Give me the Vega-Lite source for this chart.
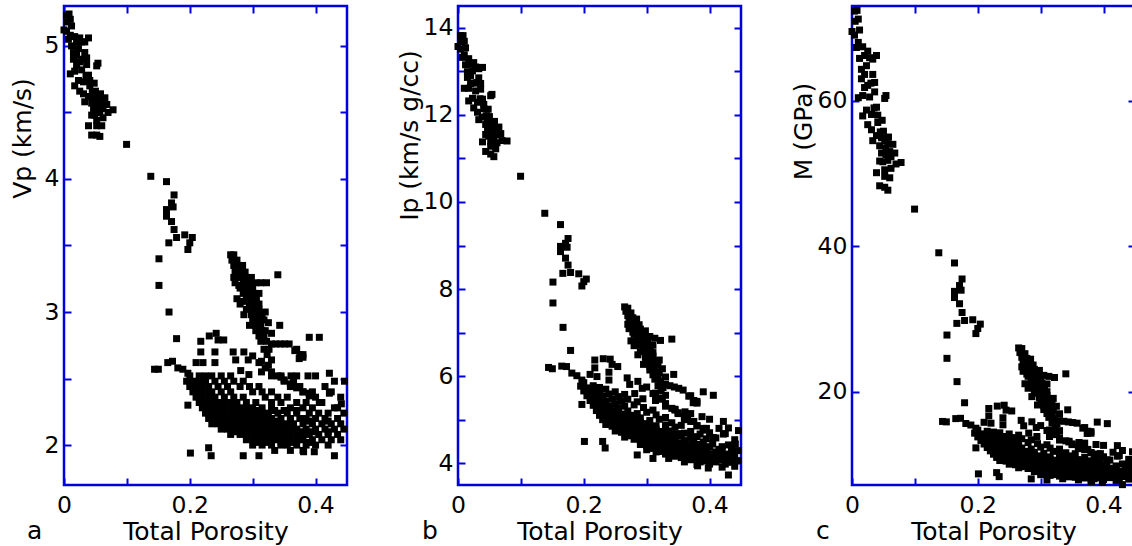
{
"$schema": "https://vega.github.io/schema/vega-lite/v6.json",
"autosize": {"type": "pad"},
"padding": {"left": 8, "top": 3, "right": 0, "bottom": 0},
"background": "white",
"bounds": "flush",
"spacing": 111,
"config": {
  "font": "DejaVu Sans",
  "view": {"stroke": "#0000dd", "strokeWidth": 2.5},
  "axis": {"domain": false, "grid": false, "tickColor": "#0000dd", "tickWidth": 2, "tickSize": -7, "labelFont": "DejaVu Sans", "labelFontSize": 23.5, "labelColor": "black", "labelFlush": false, "labelOverlap": false, "titleFont": "DejaVu Sans", "titleFontSize": 25, "titleFontWeight": "normal", "titleColor": "black"},
  "title": {"font": "DejaVu Sans", "fontSize": 25, "fontWeight": "normal", "color": "black"}
},
"data": {"values": [
{"p":0.004,"v":5.23,"i":13.82,"m":72.3},{"p":0.008,"v":5.24,"i":13.82,"m":72.4},{"p":0.0,"v":5.12,"i":13.57,"m":69.5},{"p":0.012,"v":5.15,"i":13.54,"m":69.7},{"p":0.01,"v":5.08,"i":13.38,"m":68.0},{"p":0.017,"v":5.07,"i":13.29,"m":67.4},{"p":0.025,"v":5.06,"i":13.2,"m":66.8},{"p":0.039,"v":5.06,"i":13.09,"m":66.2},{"p":0.033,"v":5.03,"i":13.06,"m":65.7},{"p":0.012,"v":5.0,"i":13.15,"m":65.8},
{"p":0.023,"v":4.98,"i":13.01,"m":64.8},{"p":0.033,"v":4.95,"i":12.85,"m":63.6},{"p":0.036,"v":4.91,"i":12.72,"m":62.5},{"p":0.015,"v":4.9,"i":12.86,"m":63.0},{"p":0.025,"v":4.88,"i":12.73,"m":62.1},{"p":0.054,"v":4.87,"i":12.47,"m":60.7},{"p":0.052,"v":4.85,"i":12.44,"m":60.3},{"p":0.01,"v":4.79,"i":12.61,"m":60.4},{"p":0.017,"v":4.81,"i":12.61,"m":60.7},{"p":0.028,"v":4.82,"i":12.55,"m":60.5},
{"p":0.039,"v":4.78,"i":12.36,"m":59.1},{"p":0.023,"v":4.74,"i":12.38,"m":58.7},{"p":0.031,"v":4.73,"i":12.29,"m":58.1},{"p":0.041,"v":4.7,"i":12.14,"m":57.0},{"p":0.025,"v":4.66,"i":12.16,"m":56.7},{"p":0.031,"v":4.64,"i":12.06,"m":56.0},{"p":0.039,"v":4.62,"i":11.95,"m":55.2},{"p":0.047,"v":4.62,"i":11.88,"m":54.9},{"p":0.052,"v":4.61,"i":11.82,"m":54.5},{"p":0.065,"v":4.61,"i":11.72,"m":54.0},
{"p":0.033,"v":4.58,"i":11.89,"m":54.5},{"p":0.044,"v":4.57,"i":11.78,"m":53.8},{"p":0.054,"v":4.57,"i":11.7,"m":53.5},{"p":0.06,"v":4.56,"i":11.63,"m":53.0},{"p":0.068,"v":4.56,"i":11.57,"m":52.8},{"p":0.078,"v":4.52,"i":11.4,"m":51.5},{"p":0.047,"v":4.53,"i":11.65,"m":52.8},{"p":0.057,"v":4.5,"i":11.5,"m":51.8},{"p":0.049,"v":4.48,"i":11.51,"m":51.6},{"p":0.062,"v":4.46,"i":11.36,"m":50.7},
{"p":0.052,"v":4.44,"i":11.38,"m":50.5},{"p":0.039,"v":4.4,"i":11.38,"m":50.1},{"p":0.052,"v":4.4,"i":11.28,"m":49.6},{"p":0.044,"v":4.33,"i":11.16,"m":48.3},{"p":0.052,"v":4.33,"i":11.1,"m":48.1},{"p":0.057,"v":4.32,"i":11.04,"m":47.7},{"p":0.02,"v":5.03,"i":13.16,"m":66.2},{"p":0.004,"v":5.11,"i":13.51,"m":69.0},{"p":0.015,"v":4.95,"i":12.99,"m":64.3},{"p":0.02,"v":4.86,"i":12.72,"m":61.8},
{"p":0.028,"v":5.03,"i":13.1,"m":65.9},{"p":0.036,"v":4.86,"i":12.59,"m":61.2},{"p":0.041,"v":4.74,"i":12.24,"m":58.0},{"p":0.017,"v":4.7,"i":12.32,"m":57.9},{"p":0.057,"v":4.6,"i":11.76,"m":54.1},{"p":0.062,"v":4.53,"i":11.54,"m":52.3},{"p":0.054,"v":4.53,"i":11.6,"m":52.6},{"p":0.044,"v":4.48,"i":11.55,"m":51.7},
{"p":0.005,"v":5.18,"i":13.68,"m":70.9},{"p":0.01,"v":5.2,"i":13.69,"m":71.2},{"p":0.007,"v":5.05,"i":13.32,"m":67.3},{"p":0.02,"v":4.93,"i":12.9,"m":63.6},{"p":0.03,"v":4.9,"i":12.74,"m":62.4},{"p":0.045,"v":4.65,"i":11.98,"m":55.7},{"p":0.05,"v":4.66,"i":11.96,"m":55.8},{"p":0.058,"v":4.64,"i":11.85,"m":55.0},{"p":0.035,"v":4.77,"i":12.37,"m":59.0},{"p":0.048,"v":4.72,"i":12.13,"m":57.3},{"p":0.06,"v":4.4,"i":11.22,"m":49.4},{"p":0.07,"v":4.5,"i":11.41,"m":51.3},
{"p":0.0995,"v":4.26,"i":10.59,"m":45.1},{"p":0.138,"v":4.02,"i":9.74,"m":39.1},{"p":0.163,"v":3.98,"i":9.48,"m":37.7},{"p":0.175,"v":3.88,"i":9.16,"m":35.5},{"p":0.171,"v":3.82,"i":9.05,"m":34.6},{"p":0.1735,"v":3.79,"i":8.96,"m":33.96},{"p":0.163,"v":3.77,"i":8.98,"m":33.8},{"p":0.163,"v":3.72,"i":8.86,"m":32.95},{"p":0.171,"v":3.68,"i":8.71,"m":32.1},{"p":0.175,"v":3.62,"i":8.55,"m":30.9},
{"p":0.179,"v":3.56,"i":8.38,"m":29.8},{"p":0.192,"v":3.58,"i":8.35,"m":29.9},{"p":0.204,"v":3.56,"i":8.23,"m":29.3},{"p":0.2,"v":3.52,"i":8.17,"m":28.7},{"p":0.197,"v":3.47,"i":8.07,"m":28.0},{"p":0.1667,"v":3.52,"i":8.36,"m":29.4},{"p":0.151,"v":3.4,"i":8.16,"m":27.8},{"p":0.151,"v":3.2,"i":7.68,"m":24.6},{"p":0.167,"v":3.0,"i":7.12,"m":21.4},{"p":0.179,"v":2.8,"i":6.59,"m":18.5},
{"p":0.265,"v":3.43,"i":7.59,"m":26.03},{"p":0.27,"v":3.43,"i":7.56,"m":25.94},{"p":0.267,"v":3.39,"i":7.49,"m":25.39},{"p":0.275,"v":3.39,"i":7.45,"m":25.24},{"p":0.27,"v":3.35,"i":7.39,"m":24.74},{"p":0.278,"v":3.35,"i":7.34,"m":24.59},{"p":0.284,"v":3.35,"i":7.31,"m":24.48},{"p":0.272,"v":3.3,"i":7.26,"m":23.97},{"p":0.28,"v":3.3,"i":7.22,"m":23.83},{"p":0.288,"v":3.3,"i":7.18,"m":23.68},
{"p":0.27,"v":3.26,"i":7.19,"m":23.43},{"p":0.28,"v":3.26,"i":7.13,"m":23.25},{"p":0.29,"v":3.26,"i":7.08,"m":23.08},{"p":0.298,"v":3.26,"i":7.04,"m":22.94},{"p":0.272,"v":3.22,"i":7.09,"m":22.82},{"p":0.285,"v":3.22,"i":7.02,"m":22.6},{"p":0.295,"v":3.22,"i":6.97,"m":22.43},{"p":0.305,"v":3.22,"i":6.91,"m":22.26},{"p":0.313,"v":3.22,"i":6.87,"m":22.12},{"p":0.322,"v":3.22,"i":6.82,"m":21.97},
{"p":0.28,"v":3.18,"i":6.96,"m":22.13},{"p":0.29,"v":3.18,"i":6.91,"m":21.96},{"p":0.3,"v":3.18,"i":6.85,"m":21.79},{"p":0.285,"v":3.14,"i":6.84,"m":21.49},{"p":0.293,"v":3.14,"i":6.8,"m":21.36},{"p":0.302,"v":3.14,"i":6.76,"m":21.22},{"p":0.275,"v":3.1,"i":6.81,"m":21.11},{"p":0.29,"v":3.1,"i":6.73,"m":20.87},{"p":0.298,"v":3.1,"i":6.69,"m":20.74},{"p":0.306,"v":3.1,"i":6.65,"m":20.61},
{"p":0.28,"v":3.06,"i":6.7,"m":20.49},{"p":0.295,"v":3.06,"i":6.62,"m":20.26},{"p":0.303,"v":3.06,"i":6.58,"m":20.13},{"p":0.31,"v":3.06,"i":6.54,"m":20.02},{"p":0.29,"v":3.02,"i":6.56,"m":19.8},{"p":0.3,"v":3.02,"i":6.51,"m":19.65},{"p":0.31,"v":3.02,"i":6.46,"m":19.5},{"p":0.286,"v":2.98,"i":6.49,"m":19.34},{"p":0.298,"v":2.98,"i":6.43,"m":19.17},{"p":0.308,"v":2.98,"i":6.38,"m":19.02},
{"p":0.315,"v":2.98,"i":6.35,"m":18.92},{"p":0.3,"v":2.94,"i":6.34,"m":18.63},{"p":0.31,"v":2.94,"i":6.29,"m":18.48},{"p":0.318,"v":2.94,"i":6.25,"m":18.37},{"p":0.295,"v":2.9,"i":6.27,"m":18.19},{"p":0.305,"v":2.9,"i":6.23,"m":18.05},{"p":0.313,"v":2.9,"i":6.19,"m":17.94},{"p":0.343,"v":2.9,"i":6.04,"m":17.53},{"p":0.305,"v":2.86,"i":6.14,"m":17.56},{"p":0.315,"v":2.86,"i":6.09,"m":17.42},
{"p":0.32,"v":2.86,"i":6.07,"m":17.36},{"p":0.31,"v":2.82,"i":6.03,"m":17.01},{"p":0.318,"v":2.82,"i":5.99,"m":16.9},{"p":0.313,"v":2.78,"i":5.93,"m":16.49},{"p":0.322,"v":2.78,"i":5.89,"m":16.37},{"p":0.33,"v":2.76,"i":5.81,"m":16.04},{"p":0.337,"v":2.76,"i":5.78,"m":15.95},{"p":0.344,"v":2.76,"i":5.75,"m":15.86},{"p":0.351,"v":2.76,"i":5.72,"m":15.78},{"p":0.358,"v":2.76,"i":5.68,"m":15.69},
{"p":0.318,"v":2.72,"i":5.78,"m":15.72},{"p":0.326,"v":2.72,"i":5.74,"m":15.63},{"p":0.37,"v":2.72,"i":5.55,"m":15.09},{"p":0.323,"v":2.68,"i":5.67,"m":15.2},{"p":0.375,"v":2.68,"i":5.44,"m":14.59},{"p":0.38,"v":2.66,"i":5.38,"m":14.31},{"p":0.33,"v":2.64,"i":5.56,"m":14.67},{"p":0.34,"v":3.28,"i":6.85,"m":22.47},{"p":0.39,"v":2.81,"i":5.64,"m":15.84},{"p":0.406,"v":2.81,"i":5.56,"m":15.63},
{"p":0.278,"v":3.2,"i":7.01,"m":22.44},{"p":0.285,"v":3.08,"i":6.71,"m":20.68},{"p":0.31,"v":3.14,"i":6.71,"m":21.08},{"p":0.32,"v":3.0,"i":6.37,"m":19.1},{"p":0.325,"v":2.92,"i":6.17,"m":18.02},{"p":0.33,"v":2.84,"i":5.98,"m":16.98},
{"p":0.2175,"v":2.78,"i":6.37,"m":17.71},{"p":0.231,"v":2.82,"i":6.4,"m":18.04},{"p":0.242,"v":2.84,"i":6.39,"m":18.16},{"p":0.245,"v":2.79,"i":6.27,"m":17.48},{"p":0.254,"v":2.79,"i":6.22,"m":17.37},{"p":0.2175,"v":2.7,"i":6.19,"m":16.7},{"p":0.24,"v":2.7,"i":6.09,"m":16.43},{"p":0.269,"v":2.7,"i":5.96,"m":16.08},{"p":0.286,"v":2.7,"i":5.88,"m":15.88},{"p":0.273,"v":2.64,"i":5.81,"m":15.33},
{"p":0.293,"v":2.64,"i":5.72,"m":15.1},{"p":0.3,"v":2.67,"i":5.75,"m":15.36},{"p":0.314,"v":2.63,"i":5.61,"m":14.75},{"p":0.24,"v":2.62,"i":5.91,"m":15.47},{"p":0.221,"v":2.62,"i":5.99,"m":15.69},{"p":0.21,"v":2.62,"i":6.04,"m":15.81},{"p":0.1725,"v":2.63,"i":6.22,"m":16.36},{"p":0.165,"v":2.62,"i":6.23,"m":16.32},{"p":0.15,"v":2.57,"i":6.17,"m":15.87},{"p":0.144,"v":2.57,"i":6.2,"m":15.93},
{"p":0.181,"v":2.58,"i":6.07,"m":15.65},{"p":0.189,"v":2.57,"i":6.01,"m":15.44},{"p":0.197,"v":2.54,"i":5.91,"m":15.0},{"p":0.281,"v":2.56,"i":5.6,"m":14.33},{"p":0.294,"v":2.53,"i":5.48,"m":13.86},{"p":0.314,"v":2.55,"i":5.44,"m":13.86},{"p":0.367,"v":2.71,"i":5.54,"m":15.01},{"p":0.38,"v":2.68,"i":5.42,"m":14.53},{"p":0.374,"v":2.65,"i":5.39,"m":14.28},{"p":0.422,"v":2.54,"i":4.96,"m":12.61},
{"p":0.446,"v":2.48,"i":4.75,"m":11.77},{"p":0.361,"v":2.52,"i":5.18,"m":13.04},{"p":0.388,"v":2.52,"i":5.07,"m":12.76},{"p":0.422,"v":2.39,"i":4.67,"m":11.16},{"p":0.406,"v":2.32,"i":4.59,"m":10.66},{"p":0.441,"v":2.31,"i":4.44,"m":10.26},{"p":0.435,"v":2.28,"i":4.36,"m":9.95},{"p":0.39,"v":2.39,"i":4.8,"m":11.46},{"p":0.197,"v":2.3,"i":5.35,"m":12.3},
{"p":0.31,"v":2.62,"i":5.6,"m":14.68},{"p":0.32,"v":2.58,"i":5.47,"m":14.12},{"p":0.33,"v":2.55,"i":5.37,"m":13.69},{"p":0.34,"v":2.52,"i":5.26,"m":13.27},{"p":0.35,"v":2.49,"i":5.16,"m":12.85},{"p":0.36,"v":2.46,"i":5.06,"m":12.44},{"p":0.37,"v":2.43,"i":4.96,"m":12.04},{"p":0.38,"v":2.4,"i":4.86,"m":11.65},{"p":0.39,"v":2.37,"i":4.76,"m":11.27},{"p":0.325,"v":2.6,"i":5.5,"m":14.29},{"p":0.345,"v":2.51,"i":5.22,"m":13.11},{"p":0.365,"v":2.44,"i":5.0,"m":12.19},
{"p":0.2,"v":2.52,"i":5.85,"m":14.73},{"p":0.215,"v":2.52,"i":5.78,"m":14.58},{"p":0.225,"v":2.52,"i":5.74,"m":14.47},{"p":0.235,"v":2.52,"i":5.7,"m":14.37},{"p":0.25,"v":2.52,"i":5.64,"m":14.21},{"p":0.265,"v":2.52,"i":5.58,"m":14.05},{"p":0.33,"v":2.52,"i":5.31,"m":13.37},{"p":0.345,"v":2.52,"i":5.24,"m":13.21},{"p":0.37,"v":2.52,"i":5.14,"m":12.95},{"p":0.4,"v":2.52,"i":5.01,"m":12.64},
{"p":0.195,"v":2.48,"i":5.77,"m":14.32},{"p":0.205,"v":2.48,"i":5.73,"m":14.22},{"p":0.215,"v":2.48,"i":5.69,"m":14.12},{"p":0.225,"v":2.48,"i":5.65,"m":14.02},{"p":0.24,"v":2.48,"i":5.59,"m":13.86},{"p":0.255,"v":2.48,"i":5.53,"m":13.71},{"p":0.27,"v":2.48,"i":5.47,"m":13.56},{"p":0.285,"v":2.48,"i":5.41,"m":13.41},{"p":0.35,"v":2.48,"i":5.14,"m":12.75},{"p":0.365,"v":2.48,"i":5.08,"m":12.6},{"p":0.43,"v":2.48,"i":4.81,"m":11.94},
{"p":0.2,"v":2.44,"i":5.66,"m":13.81},{"p":0.21,"v":2.44,"i":5.62,"m":13.71},{"p":0.22,"v":2.44,"i":5.58,"m":13.62},{"p":0.23,"v":2.44,"i":5.54,"m":13.52},{"p":0.245,"v":2.44,"i":5.48,"m":13.37},{"p":0.26,"v":2.44,"i":5.42,"m":13.22},{"p":0.28,"v":2.44,"i":5.34,"m":13.03},{"p":0.295,"v":2.44,"i":5.28,"m":12.88},{"p":0.31,"v":2.44,"i":5.22,"m":12.73},{"p":0.36,"v":2.44,"i":5.02,"m":12.24},{"p":0.375,"v":2.44,"i":4.96,"m":12.09},{"p":0.415,"v":2.44,"i":4.8,"m":11.7},
{"p":0.205,"v":2.4,"i":5.55,"m":13.32},{"p":0.215,"v":2.4,"i":5.51,"m":13.22},{"p":0.225,"v":2.4,"i":5.47,"m":13.13},{"p":0.235,"v":2.4,"i":5.43,"m":13.03},{"p":0.25,"v":2.4,"i":5.37,"m":12.89},{"p":0.265,"v":2.4,"i":5.31,"m":12.75},{"p":0.3,"v":2.4,"i":5.17,"m":12.41},{"p":0.315,"v":2.4,"i":5.11,"m":12.27},{"p":0.33,"v":2.4,"i":5.05,"m":12.13},{"p":0.38,"v":2.4,"i":4.86,"m":11.65},{"p":0.395,"v":2.4,"i":4.8,"m":11.51},{"p":0.425,"v":2.4,"i":4.68,"m":11.23},
{"p":0.21,"v":2.36,"i":5.44,"m":12.83},{"p":0.22,"v":2.36,"i":5.4,"m":12.74},{"p":0.23,"v":2.36,"i":5.36,"m":12.65},{"p":0.24,"v":2.36,"i":5.32,"m":12.55},{"p":0.255,"v":2.36,"i":5.26,"m":12.42},{"p":0.27,"v":2.36,"i":5.2,"m":12.28},{"p":0.285,"v":2.36,"i":5.14,"m":12.14},{"p":0.32,"v":2.36,"i":5.01,"m":11.82},{"p":0.34,"v":2.36,"i":4.93,"m":11.63},{"p":0.355,"v":2.36,"i":4.87,"m":11.5},{"p":0.4,"v":2.36,"i":4.7,"m":11.08},{"p":0.44,"v":2.36,"i":4.54,"m":10.72},
{"p":0.215,"v":2.32,"i":5.33,"m":12.35},{"p":0.225,"v":2.32,"i":5.29,"m":12.27},{"p":0.235,"v":2.32,"i":5.25,"m":12.18},{"p":0.245,"v":2.32,"i":5.21,"m":12.09},{"p":0.255,"v":2.32,"i":5.17,"m":12.0},{"p":0.265,"v":2.32,"i":5.13,"m":11.91},{"p":0.275,"v":2.32,"i":5.1,"m":11.82},{"p":0.29,"v":2.32,"i":5.04,"m":11.69},{"p":0.305,"v":2.32,"i":4.98,"m":11.55},{"p":0.33,"v":2.32,"i":4.88,"m":11.33},{"p":0.345,"v":2.32,"i":4.83,"m":11.2},{"p":0.37,"v":2.32,"i":4.73,"m":10.98},{"p":0.385,"v":2.32,"i":4.67,"m":10.84},{"p":0.41,"v":2.32,"i":4.58,"m":10.62},
{"p":0.22,"v":2.28,"i":5.21,"m":11.89},{"p":0.23,"v":2.28,"i":5.18,"m":11.8},{"p":0.24,"v":2.28,"i":5.14,"m":11.72},{"p":0.25,"v":2.28,"i":5.1,"m":11.63},{"p":0.26,"v":2.28,"i":5.06,"m":11.55},{"p":0.27,"v":2.28,"i":5.03,"m":11.46},{"p":0.28,"v":2.28,"i":4.99,"m":11.37},{"p":0.29,"v":2.28,"i":4.95,"m":11.29},{"p":0.3,"v":2.28,"i":4.91,"m":11.2},{"p":0.315,"v":2.28,"i":4.86,"m":11.07},{"p":0.33,"v":2.28,"i":4.8,"m":10.95},{"p":0.36,"v":2.28,"i":4.69,"m":10.69},{"p":0.38,"v":2.28,"i":4.61,"m":10.52},{"p":0.395,"v":2.28,"i":4.56,"m":10.39},{"p":0.43,"v":2.28,"i":4.42,"m":10.09},
{"p":0.23,"v":2.26,"i":5.13,"m":11.6},{"p":0.25,"v":2.26,"i":5.06,"m":11.43},{"p":0.27,"v":2.26,"i":4.98,"m":11.26},{"p":0.29,"v":2.26,"i":4.91,"m":11.09},{"p":0.31,"v":2.26,"i":4.83,"m":10.92},{"p":0.335,"v":2.26,"i":4.74,"m":10.71},{"p":0.35,"v":2.26,"i":4.68,"m":10.59},{"p":0.37,"v":2.26,"i":4.61,"m":10.42},
{"p":0.225,"v":2.24,"i":5.1,"m":11.43},{"p":0.235,"v":2.24,"i":5.07,"m":11.35},{"p":0.245,"v":2.24,"i":5.03,"m":11.27},{"p":0.255,"v":2.24,"i":4.99,"m":11.19},{"p":0.265,"v":2.24,"i":4.96,"m":11.1},{"p":0.275,"v":2.24,"i":4.92,"m":11.02},{"p":0.285,"v":2.24,"i":4.88,"m":10.94},{"p":0.295,"v":2.24,"i":4.85,"m":10.86},{"p":0.305,"v":2.24,"i":4.81,"m":10.77},{"p":0.315,"v":2.24,"i":4.77,"m":10.69},{"p":0.325,"v":2.24,"i":4.73,"m":10.61},{"p":0.34,"v":2.24,"i":4.68,"m":10.48},{"p":0.355,"v":2.24,"i":4.62,"m":10.36},{"p":0.37,"v":2.24,"i":4.57,"m":10.23},{"p":0.39,"v":2.24,"i":4.49,"m":10.07},{"p":0.405,"v":2.24,"i":4.44,"m":9.94},{"p":0.42,"v":2.24,"i":4.38,"m":9.82},{"p":0.445,"v":2.24,"i":4.29,"m":9.61},
{"p":0.23,"v":2.2,"i":5.0,"m":10.99},{"p":0.24,"v":2.2,"i":4.96,"m":10.91},{"p":0.25,"v":2.2,"i":4.92,"m":10.83},{"p":0.26,"v":2.2,"i":4.89,"m":10.75},{"p":0.27,"v":2.2,"i":4.85,"m":10.67},{"p":0.28,"v":2.2,"i":4.81,"m":10.59},{"p":0.29,"v":2.2,"i":4.78,"m":10.51},{"p":0.3,"v":2.2,"i":4.74,"m":10.43},{"p":0.31,"v":2.2,"i":4.7,"m":10.35},{"p":0.32,"v":2.2,"i":4.67,"m":10.27},{"p":0.33,"v":2.2,"i":4.63,"m":10.19},{"p":0.345,"v":2.2,"i":4.58,"m":10.07},{"p":0.36,"v":2.2,"i":4.52,"m":9.95},{"p":0.375,"v":2.2,"i":4.47,"m":9.83},{"p":0.385,"v":2.2,"i":4.43,"m":9.75},{"p":0.4,"v":2.2,"i":4.38,"m":9.63},{"p":0.415,"v":2.2,"i":4.32,"m":9.51},{"p":0.435,"v":2.2,"i":4.25,"m":9.35},
{"p":0.24,"v":2.18,"i":4.91,"m":10.71},{"p":0.26,"v":2.18,"i":4.84,"m":10.56},{"p":0.28,"v":2.18,"i":4.77,"m":10.4},{"p":0.3,"v":2.18,"i":4.7,"m":10.24},{"p":0.32,"v":2.18,"i":4.63,"m":10.09},{"p":0.34,"v":2.18,"i":4.55,"m":9.93},{"p":0.36,"v":2.18,"i":4.48,"m":9.77},{"p":0.39,"v":2.18,"i":4.37,"m":9.54},{"p":0.42,"v":2.18,"i":4.27,"m":9.3},
{"p":0.235,"v":2.16,"i":4.89,"m":10.56},{"p":0.245,"v":2.16,"i":4.85,"m":10.48},{"p":0.255,"v":2.16,"i":4.82,"m":10.4},{"p":0.265,"v":2.16,"i":4.78,"m":10.32},{"p":0.275,"v":2.16,"i":4.74,"m":10.25},{"p":0.285,"v":2.16,"i":4.71,"m":10.17},{"p":0.295,"v":2.16,"i":4.67,"m":10.09},{"p":0.305,"v":2.16,"i":4.64,"m":10.02},{"p":0.315,"v":2.16,"i":4.6,"m":9.94},{"p":0.325,"v":2.16,"i":4.57,"m":9.86},{"p":0.335,"v":2.16,"i":4.53,"m":9.79},{"p":0.345,"v":2.16,"i":4.49,"m":9.71},{"p":0.355,"v":2.16,"i":4.46,"m":9.63},{"p":0.365,"v":2.16,"i":4.42,"m":9.55},{"p":0.38,"v":2.16,"i":4.37,"m":9.44},{"p":0.395,"v":2.16,"i":4.32,"m":9.32},{"p":0.41,"v":2.16,"i":4.26,"m":9.21},{"p":0.425,"v":2.16,"i":4.21,"m":9.09},{"p":0.44,"v":2.16,"i":4.16,"m":8.98},
{"p":0.25,"v":2.12,"i":4.74,"m":10.06},{"p":0.26,"v":2.12,"i":4.71,"m":9.98},{"p":0.27,"v":2.12,"i":4.67,"m":9.91},{"p":0.28,"v":2.12,"i":4.64,"m":9.83},{"p":0.29,"v":2.12,"i":4.6,"m":9.76},{"p":0.3,"v":2.12,"i":4.57,"m":9.69},{"p":0.31,"v":2.12,"i":4.53,"m":9.61},{"p":0.32,"v":2.12,"i":4.5,"m":9.54},{"p":0.33,"v":2.12,"i":4.46,"m":9.46},{"p":0.34,"v":2.12,"i":4.43,"m":9.39},{"p":0.35,"v":2.12,"i":4.39,"m":9.31},{"p":0.36,"v":2.12,"i":4.36,"m":9.24},{"p":0.37,"v":2.12,"i":4.32,"m":9.17},{"p":0.385,"v":2.12,"i":4.27,"m":9.06},{"p":0.4,"v":2.12,"i":4.22,"m":8.94},{"p":0.415,"v":2.12,"i":4.17,"m":8.83},{"p":0.43,"v":2.12,"i":4.11,"m":8.72},{"p":0.445,"v":2.12,"i":4.06,"m":8.61},
{"p":0.27,"v":2.1,"i":4.63,"m":9.72},{"p":0.29,"v":2.1,"i":4.56,"m":9.58},{"p":0.31,"v":2.1,"i":4.49,"m":9.43},{"p":0.33,"v":2.1,"i":4.42,"m":9.29},{"p":0.35,"v":2.1,"i":4.35,"m":9.14},{"p":0.375,"v":2.1,"i":4.27,"m":8.96},{"p":0.395,"v":2.1,"i":4.2,"m":8.81},{"p":0.42,"v":2.1,"i":4.11,"m":8.63},
{"p":0.265,"v":2.08,"i":4.6,"m":9.57},{"p":0.28,"v":2.08,"i":4.55,"m":9.47},{"p":0.29,"v":2.08,"i":4.52,"m":9.4},{"p":0.3,"v":2.08,"i":4.48,"m":9.32},{"p":0.31,"v":2.08,"i":4.45,"m":9.25},{"p":0.32,"v":2.08,"i":4.41,"m":9.18},{"p":0.33,"v":2.08,"i":4.38,"m":9.11},{"p":0.34,"v":2.08,"i":4.35,"m":9.04},{"p":0.35,"v":2.08,"i":4.31,"m":8.97},{"p":0.36,"v":2.08,"i":4.28,"m":8.9},{"p":0.37,"v":2.08,"i":4.24,"m":8.82},{"p":0.38,"v":2.08,"i":4.21,"m":8.75},{"p":0.39,"v":2.08,"i":4.17,"m":8.68},{"p":0.405,"v":2.08,"i":4.12,"m":8.57},{"p":0.42,"v":2.08,"i":4.07,"m":8.47},{"p":0.435,"v":2.08,"i":4.02,"m":8.36},
{"p":0.29,"v":2.04,"i":4.43,"m":9.04},{"p":0.3,"v":2.04,"i":4.4,"m":8.97},{"p":0.31,"v":2.04,"i":4.36,"m":8.9},{"p":0.32,"v":2.04,"i":4.33,"m":8.83},{"p":0.33,"v":2.04,"i":4.3,"m":8.76},{"p":0.34,"v":2.04,"i":4.26,"m":8.69},{"p":0.35,"v":2.04,"i":4.23,"m":8.63},{"p":0.36,"v":2.04,"i":4.19,"m":8.56},{"p":0.37,"v":2.04,"i":4.16,"m":8.49},{"p":0.38,"v":2.04,"i":4.13,"m":8.42},{"p":0.395,"v":2.04,"i":4.08,"m":8.32},{"p":0.41,"v":2.04,"i":4.03,"m":8.21},{"p":0.425,"v":2.04,"i":3.98,"m":8.11},{"p":0.44,"v":2.04,"i":3.93,"m":8.01},
{"p":0.305,"v":2.02,"i":4.34,"m":8.76},{"p":0.325,"v":2.02,"i":4.27,"m":8.63},{"p":0.345,"v":2.02,"i":4.2,"m":8.49},{"p":0.365,"v":2.02,"i":4.14,"m":8.36},{"p":0.39,"v":2.02,"i":4.05,"m":8.19},
{"p":0.3,"v":2.0,"i":4.31,"m":8.62},{"p":0.315,"v":2.0,"i":4.26,"m":8.52},{"p":0.33,"v":2.0,"i":4.21,"m":8.42},{"p":0.345,"v":2.0,"i":4.16,"m":8.32},{"p":0.355,"v":2.0,"i":4.13,"m":8.26},{"p":0.37,"v":2.0,"i":4.08,"m":8.16},{"p":0.385,"v":2.0,"i":4.03,"m":8.06},{"p":0.4,"v":2.0,"i":3.98,"m":7.96},{"p":0.42,"v":2.0,"i":3.91,"m":7.83},
{"p":0.335,"v":1.96,"i":4.11,"m":8.06},{"p":0.36,"v":1.96,"i":4.03,"m":7.9},{"p":0.38,"v":1.96,"i":3.97,"m":7.77},
{"p":0.201,"v":1.94,"i":4.5,"m":8.73},{"p":0.23,"v":1.98,"i":4.5,"m":8.9},{"p":0.234,"v":1.92,"i":4.35,"m":8.35},{"p":0.285,"v":1.92,"i":4.19,"m":8.04},{"p":0.31,"v":1.92,"i":4.11,"m":7.88},{"p":0.43,"v":1.92,"i":3.73,"m":7.25},{"p":0.398,"v":1.95,"i":3.89,"m":7.58},{"p":0.381,"v":1.95,"i":3.94,"m":7.69}
]},
"hconcat": [
{
  "width": 283, "height": 479,
  "title": {"text": "a", "orient": "bottom", "anchor": "start", "frame": "group", "baseline": "alphabetic", "dx": -37, "offset": -5},
  "layer": [
    {"mark": {"type": "square", "size": 49, "color": "black", "opacity": 1},
     "encoding": {
       "x": {"field": "p", "type": "quantitative", "scale": {"domain": [0, 0.45], "nice": false, "zero": false},
             "axis": {"orient": "bottom", "values": [0, 0.1, 0.2, 0.3, 0.4], "labelExpr": "round(datum.value*10) % 2 === 0 ? format(datum.value, '~g') : ''", "labelPadding": 15, "title": "Total Porosity", "titleY": 54, "titleBaseline": "alphabetic"}},
       "y": {"field": "v", "type": "quantitative", "scale": {"domain": [1.7, 5.3], "nice": false, "zero": false},
             "axis": {"orient": "left", "values": [2, 2.5, 3, 3.5, 4, 4.5, 5], "labelExpr": "datum.value % 1 === 0 ? format(datum.value, 'd') : ''", "labelPadding": 12, "title": "Vp (km/s)", "titleX": -34, "titleY": 132, "titleAngle": 270, "titleAlign": "center", "titleBaseline": "alphabetic"}}
     }},
    {"mark": {"type": "square", "size": 49, "opacity": 0},
     "encoding": {
       "x": {"field": "p", "type": "quantitative", "scale": {"domain": [0, 0.45], "nice": false, "zero": false},
             "axis": {"orient": "top", "values": [0, 0.1, 0.2, 0.3, 0.4], "labels": false, "title": null}},
       "y": {"field": "v", "type": "quantitative", "scale": {"domain": [1.7, 5.3], "nice": false, "zero": false},
             "axis": {"orient": "right", "values": [2, 2.5, 3, 3.5, 4, 4.5, 5], "labels": false, "title": null}}
     }}
  ],
  "resolve": {"axis": {"x": "independent", "y": "independent"}}
},
{
  "width": 283, "height": 479,
  "title": {"text": "b", "orient": "bottom", "anchor": "start", "frame": "group", "baseline": "alphabetic", "dx": -36, "offset": -5},
  "layer": [
    {"mark": {"type": "square", "size": 49, "color": "black", "opacity": 1},
     "encoding": {
       "x": {"field": "p", "type": "quantitative", "scale": {"domain": [0, 0.45], "nice": false, "zero": false},
             "axis": {"orient": "bottom", "values": [0, 0.1, 0.2, 0.3, 0.4], "labelExpr": "round(datum.value*10) % 2 === 0 ? format(datum.value, '~g') : ''", "labelPadding": 15, "title": "Total Porosity", "titleY": 54, "titleBaseline": "alphabetic"}},
       "y": {"field": "i", "type": "quantitative", "scale": {"domain": [3.5, 14.5], "nice": false, "zero": false},
             "axis": {"orient": "left", "values": [4, 5, 6, 7, 8, 9, 10, 11, 12, 13, 14], "labelExpr": "datum.value % 2 === 0 ? format(datum.value, 'd') : ''", "labelPadding": 12, "title": "Ip (km/s g/cc)", "titleX": -41, "titleY": 129, "titleAngle": 270, "titleAlign": "center", "titleBaseline": "alphabetic"}}
     }},
    {"mark": {"type": "square", "size": 49, "opacity": 0},
     "encoding": {
       "x": {"field": "p", "type": "quantitative", "scale": {"domain": [0, 0.45], "nice": false, "zero": false},
             "axis": {"orient": "top", "values": [0, 0.1, 0.2, 0.3, 0.4], "labels": false, "title": null}},
       "y": {"field": "i", "type": "quantitative", "scale": {"domain": [3.5, 14.5], "nice": false, "zero": false},
             "axis": {"orient": "right", "values": [4, 5, 6, 7, 8, 9, 10, 11, 12, 13, 14], "labels": false, "title": null}}
     }}
  ],
  "resolve": {"axis": {"x": "independent", "y": "independent"}}
},
{
  "width": 283, "height": 479,
  "title": {"text": "c", "orient": "bottom", "anchor": "start", "frame": "group", "baseline": "alphabetic", "dx": -36, "offset": -5},
  "layer": [
    {"mark": {"type": "square", "size": 49, "color": "black", "opacity": 1},
     "encoding": {
       "x": {"field": "p", "type": "quantitative", "scale": {"domain": [0, 0.45], "nice": false, "zero": false},
             "axis": {"orient": "bottom", "values": [0, 0.1, 0.2, 0.3, 0.4], "labelExpr": "round(datum.value*10) % 2 === 0 ? format(datum.value, '~g') : ''", "labelPadding": 15, "title": "Total Porosity", "titleY": 54, "titleBaseline": "alphabetic"}},
       "y": {"field": "m", "type": "quantitative", "scale": {"domain": [7.2, 73], "nice": false, "zero": false},
             "axis": {"orient": "left", "values": [20, 40, 60], "format": "d", "labelPadding": 12, "title": "M (GPa)", "titleX": -41, "titleY": 125, "titleAngle": 270, "titleAlign": "center", "titleBaseline": "alphabetic"}}
     }},
    {"mark": {"type": "square", "size": 49, "opacity": 0},
     "encoding": {
       "x": {"field": "p", "type": "quantitative", "scale": {"domain": [0, 0.45], "nice": false, "zero": false},
             "axis": {"orient": "top", "values": [0, 0.1, 0.2, 0.3, 0.4], "labels": false, "title": null}},
       "y": {"field": "m", "type": "quantitative", "scale": {"domain": [7.2, 73], "nice": false, "zero": false},
             "axis": {"orient": "right", "values": [20, 40, 60], "labels": false, "title": null}}
     }}
  ],
  "resolve": {"axis": {"x": "independent", "y": "independent"}}
}
]
}
